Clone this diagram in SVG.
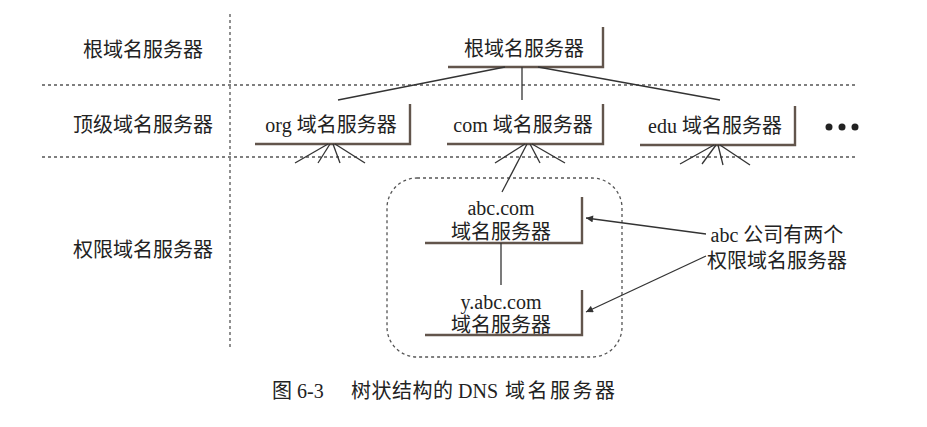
<svg xmlns="http://www.w3.org/2000/svg" width="927" height="427" viewBox="0 0 927 427">
<defs>
<style>
.t{font-family:"Liberation Serif","Noto Sans CJK SC",serif;font-size:20px;fill:#222;text-anchor:middle;dominant-baseline:central}
.cap{font-family:"Liberation Serif","Noto Sans CJK SC",serif;font-size:20px;fill:#222}
.grid{stroke:#555;stroke-width:1.3;stroke-dasharray:3 3;fill:none}
.ln{stroke:#333;stroke-width:1.3;fill:none}
.box{stroke:#62554c;stroke-width:2.4;fill:none}
</style>
<marker id="ah" viewBox="0 0 10 10" refX="10" refY="5" markerWidth="9" markerHeight="7" orient="auto" markerUnits="userSpaceOnUse">
<path d="M0,0 L10,5 L0,10 z" fill="#333"/>
</marker>
</defs>
<rect width="927" height="427" fill="#fff"/>
<g id="grid">
<line class="grid" x1="230" y1="14" x2="230" y2="350"/>
<line class="grid" x1="42" y1="85" x2="858" y2="85"/>
<line class="grid" x1="42" y1="157" x2="858" y2="157"/>
</g>
<g id="row-labels">
<text class="t" x="143" y="50">根域名服务器</text>
<text class="t" x="143" y="125">顶级域名服务器</text>
<text class="t" x="143" y="250">权限域名服务器</text>
</g>
<g id="root">
<path class="box" d="M448,67 H603 V27"/>
<text class="t" x="524" y="49">根域名服务器</text>
</g>
<g id="org">
<path class="box" d="M255,144 H410 V104"/>
<text class="t" x="331" y="125">org 域名服务器</text>
</g>
<g id="com">
<path class="box" d="M447,144 H603 V104"/>
<text class="t" x="523" y="125">com 域名服务器</text>
</g>
<g id="edu">
<path class="box" d="M640,145 H795 V106"/>
<text class="t" x="715" y="126">edu 域名服务器</text>
</g>
<g id="more">
<circle cx="829" cy="127" r="3.5" fill="#222"/>
<circle cx="842" cy="127" r="3.5" fill="#222"/>
<circle cx="855" cy="127" r="3.5" fill="#222"/>
</g>
<g id="zone">
<rect x="387" y="178" width="235" height="179" rx="30" ry="30" class="grid"/>
</g>
<g id="abc">
<path class="box" d="M425,243 H582 V197"/>
<text class="t" x="501" y="208">abc.com</text>
<text class="t" x="501" y="232">域名服务器</text>
</g>
<g id="yabc">
<path class="box" d="M425,335 H582 V290"/>
<text class="t" x="501" y="302">y.abc.com</text>
<text class="t" x="501" y="325">域名服务器</text>
</g>
<g id="note">
<text class="t" x="777" y="235">abc 公司有两个</text>
<text class="t" x="777" y="261">权限域名服务器</text>
</g>
<g id="connectors">
<line class="ln" x1="505" y1="67" x2="338" y2="100"/>
<line class="ln" x1="522" y1="67" x2="522" y2="100"/>
<line class="ln" x1="538" y1="67" x2="720" y2="100"/>
<line class="ln" x1="328" y1="144" x2="295" y2="163"/>
<line class="ln" x1="330" y1="144" x2="318" y2="163"/>
<line class="ln" x1="333" y1="144" x2="340" y2="163"/>
<line class="ln" x1="335" y1="144" x2="365" y2="163"/>
<line class="ln" x1="525" y1="144" x2="495" y2="163"/>
<line class="ln" x1="527" y1="144" x2="502" y2="192"/>
<line class="ln" x1="530" y1="144" x2="540" y2="163"/>
<line class="ln" x1="532" y1="144" x2="565" y2="163"/>
<line class="ln" x1="714" y1="145" x2="680" y2="164"/>
<line class="ln" x1="716" y1="145" x2="702" y2="164"/>
<line class="ln" x1="718" y1="145" x2="723" y2="165"/>
<line class="ln" x1="720" y1="145" x2="750" y2="165"/>
<line class="ln" x1="501" y1="243" x2="501" y2="285"/>
<line class="ln" x1="706" y1="234" x2="586" y2="218" marker-end="url(#ah)"/>
<line class="ln" x1="706" y1="256" x2="586" y2="312" marker-end="url(#ah)"/>
</g>
<g id="caption">
<text class="cap" x="272" y="398">图 6-3</text>
<text class="cap" x="351" y="398" letter-spacing="0.5">树状结构的</text>
<text class="cap" x="458" y="398">DNS</text>
<text class="cap" x="505" y="398" letter-spacing="2.5">域名服务器</text>
</g>
</svg>
